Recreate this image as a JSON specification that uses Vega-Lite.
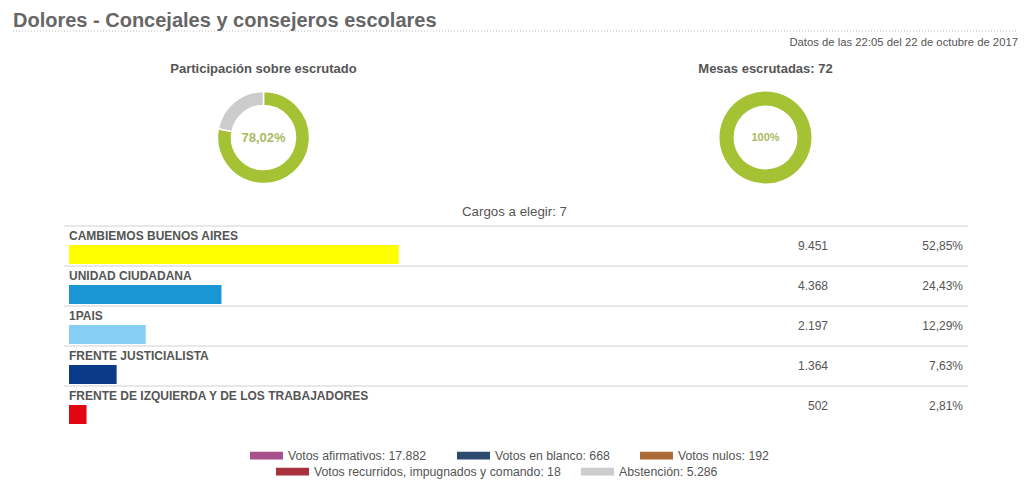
{
  "$schema": "https://vega.github.io/schema/vega-lite/v6.json",
  "background": "white",
  "padding": {"left": 12, "top": 10, "right": 5, "bottom": 0},
  "title": {"text": "Dolores - Concejales y consejeros escolares", "anchor": "start", "frame": "group", "fontSize": 20, "fontWeight": "bold", "font": "Liberation Sans", "color": "#666666", "offset": 0, "baseline": "top"},
  "spacing": 13,
  "resolve": {"scale": {"color": "independent", "fill": "independent"}, "legend": {"color": "independent", "fill": "independent"}},
  "config": {
    "view": {"stroke": null},
    "font": "Liberation Sans",
    "locale": {"number": {"decimal": ",", "thousands": ".", "grouping": [3], "currency": ["$", ""]}},
    "title": {"font": "Liberation Sans"}
  },
  "vconcat": [
    {
      "width": 1003,
      "height": 15,
      "data": {"values": [{"fecha": "Datos de las 22:05 del 22 de octubre de 2017"}]},
      "layer": [
        {
          "mark": {"type": "rule", "color": "#bbbbbb", "strokeDash": [1, 2], "strokeWidth": 1},
          "encoding": {
            "x": {"datum": 0, "type": "quantitative", "scale": {"domain": [0, 1]}, "axis": null},
            "x2": {"datum": 1},
            "y": {"datum": 1, "type": "quantitative", "scale": {"domain": [0, 1]}, "axis": null}
          }
        },
        {
          "mark": {"type": "text", "align": "right", "baseline": "alphabetic", "fontSize": 11.3, "color": "#555555"},
          "encoding": {
            "x": {"datum": 1.002, "type": "quantitative"},
            "y": {"datum": 0, "type": "quantitative"},
            "text": {"field": "fecha"}
          }
        }
      ]
    },
    {
      "spacing": 1,
      "resolve": {"scale": {"color": "independent"}, "legend": {"color": "independent"}},
      "hconcat": [
        {
          "width": 501,
          "height": 107,
          "title": {"text": "Participación sobre escrutado", "fontSize": 13, "fontWeight": "bold", "color": "#555555", "offset": 8.5},
          "layer": [
            {
              "data": {"values": [
                {"tipo": "Votos", "valor": 18760, "orden": 1},
                {"tipo": "Abstención", "valor": 5286, "orden": 2}
              ]},
              "mark": {"type": "arc", "outerRadius": 46, "innerRadius": 32, "stroke": "white", "strokeWidth": 1.5},
              "encoding": {
                "theta": {"field": "valor", "type": "quantitative", "stack": true},
                "order": {"field": "orden"},
                "color": {"field": "tipo", "type": "nominal", "scale": {"domain": ["Votos", "Abstención"], "range": ["#a5c134", "#cccccc"]}, "legend": null}
              }
            },
            {
              "data": {"values": [{"p": "78,02%"}]},
              "mark": {"type": "text", "fontSize": 13, "fontWeight": "bold", "color": "#a9bb62", "baseline": "middle"},
              "encoding": {"text": {"field": "p"}}
            }
          ]
        },
        {
          "width": 501,
          "height": 107,
          "title": {"text": "Mesas escrutadas: 72", "fontSize": 13, "fontWeight": "bold", "color": "#555555", "offset": 8.5},
          "layer": [
            {
              "data": {"values": [{"tipo": "Escrutadas", "valor": 72}]},
              "mark": {"type": "arc", "outerRadius": 46, "innerRadius": 32, "color": "#a5c134"},
              "encoding": {
                "theta": {"field": "valor", "type": "quantitative", "stack": true}
              }
            },
            {
              "data": {"values": [{"p": "100%"}]},
              "mark": {"type": "text", "fontSize": 11, "fontWeight": "bold", "color": "#a9bb62", "baseline": "middle"},
              "encoding": {"text": {"field": "p"}}
            }
          ]
        }
      ]
    },
    {
      "width": 1003,
      "height": 200,
      "title": {"text": "Cargos a elegir: 7", "fontSize": 13.3, "fontWeight": "normal", "color": "#555555", "offset": 7, "anchor": "middle"},
      "data": {"values": [
        {"partido": "CAMBIEMOS BUENOS AIRES", "votos": 9451, "pct": 0.5285},
        {"partido": "UNIDAD CIUDADANA", "votos": 4368, "pct": 0.2443},
        {"partido": "1PAIS", "votos": 2197, "pct": 0.1229},
        {"partido": "FRENTE JUSTICIALISTA", "votos": 1364, "pct": 0.0763},
        {"partido": "FRENTE DE IZQUIERDA Y DE LOS TRABAJADORES", "votos": 502, "pct": 0.0281}
      ]},
      "encoding": {
        "y": {"field": "partido", "type": "nominal", "sort": null, "scale": {"paddingInner": 0, "paddingOuter": 0}, "axis": null}
      },
      "layer": [
        {
          "mark": {"type": "rule", "color": "#e0e0e0", "strokeWidth": 1.5},
          "encoding": {
            "x": {"datum": -0.008, "type": "quantitative", "scale": {"domain": [-0.08974, 1.5176], "nice": false, "zero": false}, "axis": null},
            "x2": {"datum": 1.4407},
            "y": {"field": "partido", "type": "nominal", "sort": null, "bandPosition": 0}
          }
        },
        {
          "mark": {"type": "bar", "height": 19, "yOffset": 8.5},
          "encoding": {
            "x": {"field": "pct", "type": "quantitative"},
            "x2": {"datum": 0},
            "color": {"field": "partido", "type": "nominal", "sort": null, "legend": null, "scale": {
              "domain": ["CAMBIEMOS BUENOS AIRES", "UNIDAD CIUDADANA", "1PAIS", "FRENTE JUSTICIALISTA", "FRENTE DE IZQUIERDA Y DE LOS TRABAJADORES"],
              "range": ["#ffff00", "#1a96d4", "#87cef5", "#0b3a88", "#e20613"]}}
          }
        },
        {
          "mark": {"type": "text", "align": "left", "baseline": "alphabetic", "fontSize": 12, "fontWeight": "bold", "color": "#555555"},
          "encoding": {
            "x": {"datum": 0, "type": "quantitative"},
            "y": {"field": "partido", "type": "nominal", "sort": null, "bandPosition": 0.35},
            "text": {"field": "partido"}
          }
        },
        {
          "mark": {"type": "text", "align": "right", "baseline": "middle", "fontSize": 12, "color": "#555555"},
          "encoding": {
            "x": {"datum": 1.2163, "type": "quantitative"},
            "text": {"field": "votos", "type": "quantitative", "format": ",d"}
          }
        },
        {
          "mark": {"type": "text", "align": "right", "baseline": "middle", "fontSize": 12, "color": "#555555"},
          "encoding": {
            "x": {"datum": 1.4327, "type": "quantitative"},
            "text": {"field": "pct", "type": "quantitative", "format": ".2%"}
          }
        }
      ]
    },
    {
      "width": 1003,
      "height": 40,
      "resolve": {"scale": {"color": "independent", "fill": "independent"}, "legend": {"color": "independent", "fill": "independent"}},
      "layer": [
        {
          "data": {"values": [
            {"etiqueta": "Votos afirmativos: 17.882", "votos": 17882},
            {"etiqueta": "Votos en blanco: 668", "votos": 668},
            {"etiqueta": "Votos nulos: 192", "votos": 192}
          ]},
          "mark": {"type": "square", "opacity": 0},
          "encoding": {
            "color": {"field": "etiqueta", "type": "nominal", "sort": null,
              "scale": {"domain": ["Votos afirmativos: 17.882", "Votos en blanco: 668", "Votos nulos: 192"], "range": ["#a8508c", "#2b4c6f", "#ad6b3a"]},
              "legend": {"orient": "none", "legendX": 237, "legendY": -7, "direction": "horizontal", "title": null,
                "symbolType": "M-1,-0.24H1V0.24H-1Z", "symbolSize": 1089, "symbolStrokeWidth": 0, "symbolOpacity": 1,
                "labelFontSize": 12.3, "labelColor": "#555555", "labelOffset": 5, "columnPadding": 30, "labelLimit": 400, "padding": 0}}
          }
        },
        {
          "data": {"values": [
            {"etiqueta": "Votos recurridos, impugnados y comando: 18", "votos": 18},
            {"etiqueta": "Abstención: 5.286", "votos": 5286}
          ]},
          "mark": {"type": "square", "opacity": 0},
          "encoding": {
            "fill": {"field": "etiqueta", "type": "nominal", "sort": null,
              "scale": {"domain": ["Votos recurridos, impugnados y comando: 18", "Abstención: 5.286"], "range": ["#a8323a", "#cccccc"]},
              "legend": {"orient": "none", "legendX": 263, "legendY": 9, "direction": "horizontal", "title": null,
                "symbolType": "M-1,-0.24H1V0.24H-1Z", "symbolSize": 1089, "symbolStrokeWidth": 0, "symbolOpacity": 1,
                "labelFontSize": 12.3, "labelColor": "#555555", "labelOffset": 5, "columnPadding": 20, "labelLimit": 400, "padding": 0}}
          }
        }
      ]
    }
  ]
}
